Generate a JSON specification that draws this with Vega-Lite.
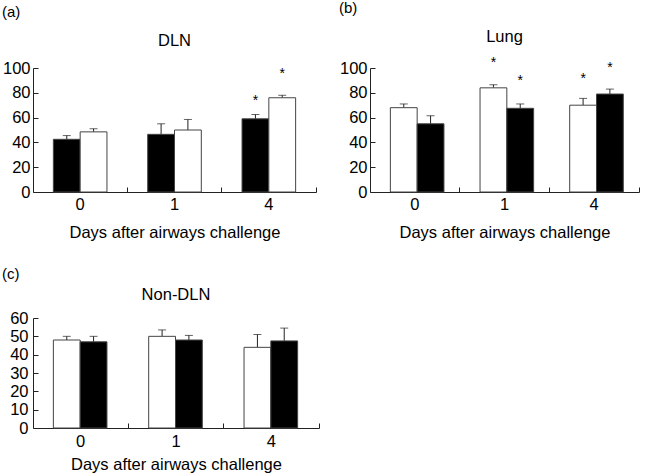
{
  "$schema": "https://vega.github.io/schema/vega-lite/v6.json",
  "padding": {"left": 2, "top": 0, "right": 5, "bottom": 0},
  "datasets": {
    "dln": [
      {"day": "0", "grp": "1", "mean": 42.5, "upper": 45.5, "star": null},
      {"day": "0", "grp": "2", "mean": 48.5, "upper": 51, "star": null},
      {"day": "1", "grp": "1", "mean": 46.5, "upper": 55, "star": null},
      {"day": "1", "grp": "2", "mean": 50, "upper": 58.5, "star": null},
      {"day": "4", "grp": "1", "mean": 59, "upper": 62.5, "star": 76.5},
      {"day": "4", "grp": "2", "mean": 76, "upper": 78, "star": 98.5}
    ],
    "lung": [
      {"day": "0", "grp": "1", "mean": 68, "upper": 71, "star": null},
      {"day": "0", "grp": "2", "mean": 55, "upper": 61.5, "star": null},
      {"day": "1", "grp": "1", "mean": 84, "upper": 86.5, "star": 107},
      {"day": "1", "grp": "2", "mean": 67.5, "upper": 71, "star": 92.5},
      {"day": "4", "grp": "1", "mean": 70, "upper": 75.5, "star": 94},
      {"day": "4", "grp": "2", "mean": 79, "upper": 83, "star": 103}
    ],
    "nondln": [
      {"day": "0", "grp": "1", "mean": 48, "upper": 50, "star": null},
      {"day": "0", "grp": "2", "mean": 47, "upper": 50, "star": null},
      {"day": "1", "grp": "1", "mean": 50, "upper": 53.5, "star": null},
      {"day": "1", "grp": "2", "mean": 48, "upper": 50.5, "star": null},
      {"day": "4", "grp": "1", "mean": 44, "upper": 51, "star": null},
      {"day": "4", "grp": "2", "mean": 47.5, "upper": 54.5, "star": null}
    ]
  },
  "vconcat": [
    {
      "hconcat": [
        {
          "title": {"text": "(a)", "anchor": "start", "fontSize": 15, "offset": 13},
          "vconcat": [
            {
              "title": {"text": "DLN", "offset": 11},
              "width": 283,
              "height": 124,
              "data": {"name": "dln"},
              "encoding": {
                "x": {"field": "day", "type": "nominal", "sort": ["0", "1", "4"], "scale": {"paddingInner": 0, "paddingOuter": 0},
                  "axis": {"title": "Days after airways challenge", "labelAngle": 0, "bandPosition": 1, "tickSize": -5, "labelPadding": 9, "titlePadding": 12}},
                "xOffset": {"field": "grp", "type": "nominal", "scale": {"paddingInner": 0, "paddingOuter": 0.76}},
                "y": {"type": "quantitative", "scale": {"domain": [0, 100]}, "axis": {"title": null, "values": [0, 20, 40, 60, 80, 100], "tickSize": -5, "labelPadding": 8, "labelOverlap": false, "minExtent": 31}}
              },
              "layer": [
                {"mark": {"type": "rule", "color": "#222"},
                  "encoding": {"y": {"field": "mean"}, "y2": {"field": "upper"}}},
                {"mark": {"type": "tick", "size": 8, "thickness": 1, "color": "#222"},
                  "encoding": {"y": {"field": "upper"}}},
                {"mark": {"type": "bar", "stroke": "#444", "strokeWidth": 1},
                  "encoding": {"y": {"field": "mean"}, "fill": {"field": "grp", "type": "nominal", "scale": {"range": ["black", "white"]}, "legend": null}}},
                {"mark": {"type": "text", "text": "*", "fontSize": 14, "dy": 4},
                  "encoding": {"y": {"field": "star"}}}
              ]
            }
          ]
        },
        {
          "title": {"text": "(b)", "anchor": "start", "fontSize": 15, "offset": 13},
          "vconcat": [
            {
              "title": {"text": "Lung", "offset": 11},
              "width": 269,
              "height": 124,
              "data": {"name": "lung"},
              "encoding": {
                "x": {"field": "day", "type": "nominal", "sort": ["0", "1", "4"], "scale": {"paddingInner": 0, "paddingOuter": 0},
                  "axis": {"title": "Days after airways challenge", "labelAngle": 0, "bandPosition": 1, "tickSize": -5, "labelPadding": 9, "titlePadding": 12}},
                "xOffset": {"field": "grp", "type": "nominal", "scale": {"paddingInner": 0, "paddingOuter": 0.72}},
                "y": {"type": "quantitative", "scale": {"domain": [0, 100]}, "axis": {"title": null, "values": [0, 20, 40, 60, 80, 100], "tickSize": -5, "labelPadding": 8, "labelOverlap": false, "minExtent": 31}}
              },
              "layer": [
                {"mark": {"type": "rule", "color": "#222"},
                  "encoding": {"y": {"field": "mean"}, "y2": {"field": "upper"}}},
                {"mark": {"type": "tick", "size": 8, "thickness": 1, "color": "#222"},
                  "encoding": {"y": {"field": "upper"}}},
                {"mark": {"type": "bar", "stroke": "#444", "strokeWidth": 1},
                  "encoding": {"y": {"field": "mean"}, "fill": {"field": "grp", "type": "nominal", "scale": {"range": ["white", "black"]}, "legend": null}}},
                {"mark": {"type": "text", "text": "*", "fontSize": 14, "dy": 4},
                  "encoding": {"y": {"field": "star"}}}
              ]
            }
          ]
        }
      ],
      "spacing": 22,
      "resolve": {"scale": {"fill": "independent"}}
    },
    {
      "title": {"text": "(c)", "anchor": "start", "fontSize": 15, "offset": 5},
      "vconcat": [
        {
          "title": {"text": "Non-DLN", "offset": 7},
          "width": 286,
          "height": 110,
          "data": {"name": "nondln"},
          "encoding": {
            "x": {"field": "day", "type": "nominal", "sort": ["0", "1", "4"], "scale": {"paddingInner": 0, "paddingOuter": 0},
              "axis": {"title": "Days after airways challenge", "labelAngle": 0, "bandPosition": 1, "tickSize": -5, "labelPadding": 10, "titlePadding": 7}},
            "xOffset": {"field": "grp", "type": "nominal", "scale": {"paddingInner": 0, "paddingOuter": 0.79}},
            "y": {"type": "quantitative", "scale": {"domain": [0, 60]}, "axis": {"title": null, "values": [0, 10, 20, 30, 40, 50, 60], "tickSize": -5, "labelPadding": 10, "labelOverlap": false, "minExtent": 31}}
          },
          "layer": [
            {"mark": {"type": "rule", "color": "#222"},
              "encoding": {"y": {"field": "mean"}, "y2": {"field": "upper"}}},
            {"mark": {"type": "tick", "size": 8, "thickness": 1, "color": "#222"},
              "encoding": {"y": {"field": "upper"}}},
            {"mark": {"type": "bar", "stroke": "#444", "strokeWidth": 1},
              "encoding": {"y": {"field": "mean"}, "fill": {"field": "grp", "type": "nominal", "scale": {"range": ["white", "black"]}, "legend": null}}}
          ]
        }
      ]
    }
  ],
  "spacing": 25,
  "resolve": {"scale": {"fill": "independent"}},
  "config": {
    "view": {"stroke": null},
    "font": "Liberation Sans",
    "axis": {"labelFontSize": 16.5, "titleFontSize": 16.5, "titleFontWeight": "normal", "labelColor": "black", "titleColor": "black", "domainColor": "#222", "tickColor": "#222", "grid": false},
    "title": {"fontSize": 16.5, "fontWeight": "normal", "color": "black"}
  }
}
